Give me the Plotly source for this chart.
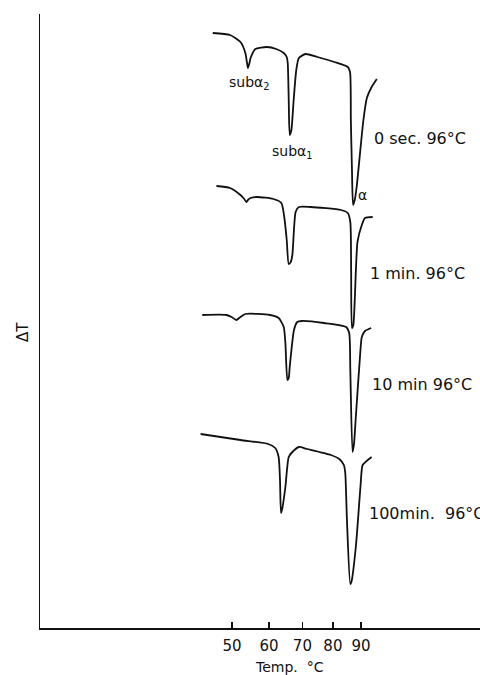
import math
import plotly.graph_objects as go

# Temperature scale of the chart is non-linear; it is drawn as a log axis of (T + OFFSET)
OFFSET = 40

# ---- data (T in °C, ΔT in arbitrary units, curves offset vertically) ----
t_0sec = [45.2, 49.5, 52.2, 53.5, 53.9, 54.2, 54.6, 54.9, 56.2, 59.4, 62.1, 64.3, 65.2, 65.5,
          65.8, 66.1, 66.6, 67.3, 68.1, 68.9, 71.0, 74.8, 80.5, 85.2, 86.0, 86.3, 86.7, 87.1,
          87.7, 88.4, 90.9, 92.2, 94.0, 96.0]
dt_0sec = [59.5, 59.3, 58.6, 57.5, 56.6, 56.0, 56.5, 57.0, 57.9, 58.1, 57.9, 57.5, 57.1, 56.5,
           52.8, 49.3, 49.8, 52.8, 55.8, 57.0, 57.4, 57.1, 56.6, 56.1, 55.6, 50.8, 45.8, 42.3,
           42.8, 44.1, 50.8, 53.0, 54.1, 54.9]

t_1min = [46.1, 49.5, 52.2, 53.2, 53.8, 54.3, 54.9, 56.7, 61.3, 63.6, 64.5, 65.2, 65.8, 66.4,
          66.9, 67.9, 68.9, 72.6, 82.8, 85.2, 86.1, 86.4, 86.7, 87.2, 88.7, 90.3, 91.5, 94.4]
dt_1min = [44.2, 44.0, 43.3, 42.9, 42.6, 42.85, 43.0, 43.1, 42.9, 42.5, 41.0, 38.8, 36.4, 36.6,
           37.3, 41.6, 42.1, 42.1, 41.8, 41.5, 40.6, 35.8, 30.0, 30.3, 38.6, 40.3, 41.0, 41.1]

t_10min = [42.7, 48.6, 49.9, 51.1, 52.2, 53.5, 60.3, 62.8, 64.3, 64.8, 65.4, 65.8, 66.1, 67.4,
           68.4, 69.9, 77.0, 84.6, 85.7, 86.1, 86.9, 87.4, 88.1, 89.8, 90.3, 91.5, 93.8]
dt_10min = [31.3, 31.3, 31.1, 30.8, 31.1, 31.4, 31.3, 31.0, 30.1, 28.5, 24.8, 25.0, 26.1, 29.8,
            30.6, 30.7, 30.5, 30.1, 29.5, 25.8, 17.6, 18.3, 21.1, 27.8, 29.1, 29.7, 30.0]

t_100min = [42.3, 52.2, 59.8, 61.8, 62.8, 63.2, 63.5, 63.9, 64.8, 65.8, 66.9, 68.9, 71.5, 79.3,
            82.2, 83.8, 84.3, 84.9, 86.1, 86.5, 88.1, 89.8, 90.6, 92.1, 94.0]
dt_100min = [19.4, 18.8, 18.4, 18.0, 17.1, 14.8, 11.5, 12.0, 14.1, 17.1, 17.6, 18.1, 17.9, 17.3,
             16.9, 16.3, 15.5, 10.8, 4.4, 4.6, 8.1, 14.1, 16.3, 16.7, 17.1]

tick_temps = [50, 60, 70, 80, 90]
tick_labels = ["50", "60", "70", "80", "90"]

series = [
    ("0 sec. 96°C", t_0sec, dt_0sec),
    ("1 min. 96°C", t_1min, dt_1min),
    ("10 min 96°C", t_10min, dt_10min),
    ("100min.  96°C", t_100min, dt_100min),
]

curve_labels = ["0 sec. 96°C", "1 min. 96°C", "10 min 96°C", "100min.  96°C"]
curve_label_pos = [(0.755, 0.797), (0.745, 0.578), (0.750, 0.396), (0.743, 0.187)]

fig = go.Figure()
for name, t, d in series:
    fig.add_trace(go.Scatter(
        x=[v + OFFSET for v in t], y=d, mode="lines", name=name,
        line=dict(color="#111111", width=1.8, shape="spline", smoothing=0.6),
        showlegend=False, hoverinfo="skip"))

FONT = "DejaVu Sans"
ann = []
for txt, (px, py) in zip(curve_labels, curve_label_pos):
    ann.append(dict(text=txt, x=px, y=py, xref="paper", yref="paper", showarrow=False,
                    xanchor="left", yanchor="middle", font=dict(size=16, color="#111111", family=FONT)))
ann += [
    dict(text="subα<sub>2</sub>", x=0.424, y=0.888, xref="paper", yref="paper", showarrow=False,
         xanchor="left", yanchor="middle", font=dict(size=14, color="#111111", family=FONT)),
    dict(text="subα<sub>1</sub>", x=0.522, y=0.775, xref="paper", yref="paper", showarrow=False,
         xanchor="left", yanchor="middle", font=dict(size=14, color="#111111", family=FONT)),
    dict(text="α", x=0.732, y=0.705, xref="paper", yref="paper", showarrow=False,
         xanchor="center", yanchor="middle", font=dict(size=14, color="#111111", family=FONT)),
    dict(text="ΔT", x=-0.039, y=0.482, xref="paper", yref="paper", showarrow=False,
         textangle=-90, xanchor="center", yanchor="middle",
         font=dict(size=15, color="#111111", family=FONT)),
    dict(text="Temp.  °C", x=0.568, y=-0.064, xref="paper", yref="paper", showarrow=False,
         xanchor="center", yanchor="middle", font=dict(size=14, color="#111111", family=FONT)),
]

fig.update_layout(
    width=480, height=675,
    margin=dict(l=40, r=0, t=14, b=47),
    paper_bgcolor="white", plot_bgcolor="white",
    annotations=ann,
    xaxis=dict(type="log", range=[math.log10(52.07), math.log10(182.5)],
               tickvals=[v + OFFSET for v in tick_temps], ticktext=tick_labels,
               ticks="inside", ticklen=6, tickwidth=1.2, tickcolor="#111111",
               ticklabelstandoff=3,
               showline=True, linecolor="#111111", linewidth=1.5,
               showgrid=False, zeroline=False,
               tickfont=dict(size=15, color="#111111", family=FONT)),
    yaxis=dict(range=[0, 61.4], showticklabels=False, ticks="",
               showline=True, linecolor="#111111", linewidth=1.5,
               showgrid=False, zeroline=False),
)

# remove the page's default body margin so the figure sits at the window's top-left corner
fig.write_html("out.html",
               config={"displayModeBar": False, "staticPlot": True},
               post_script="document.body.style.margin='0';document.body.style.overflow='hidden';")
